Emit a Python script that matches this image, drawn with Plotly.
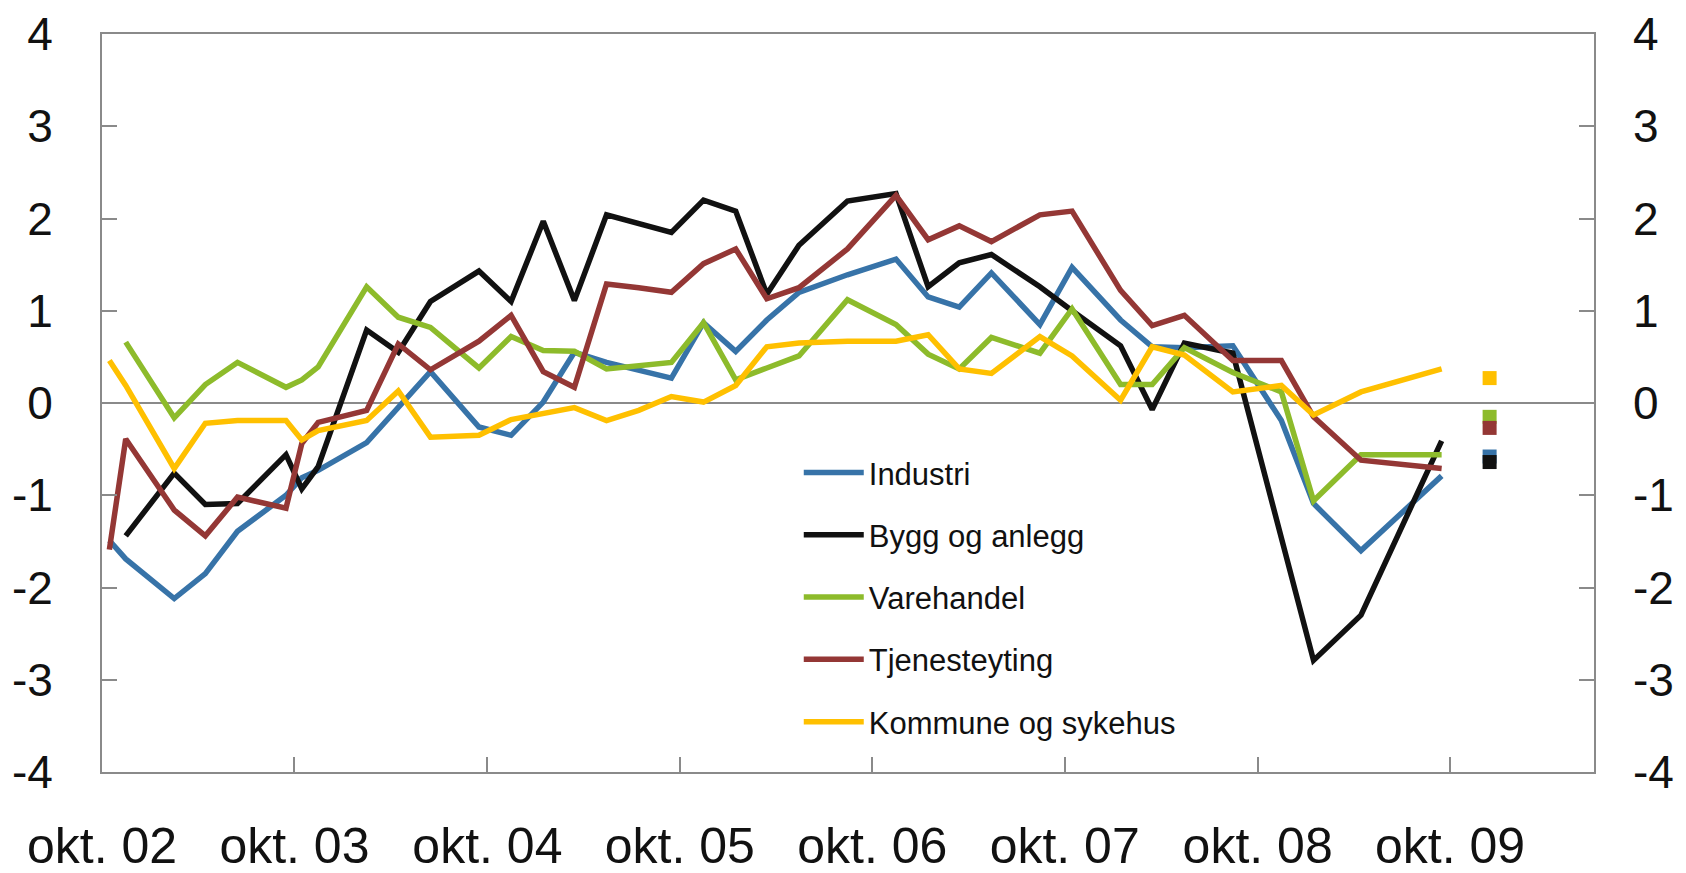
import plotly.graph_objects as go

# -----------------------------
# Data
# -----------------------------

dates = [
    "2002-10-15", "2002-11-15", "2003-02-15", "2003-04-15", "2003-06-15",
    "2003-09-15", "2003-10-15", "2003-11-15", "2004-02-15", "2004-04-15",
    "2004-06-15", "2004-09-15", "2004-11-15", "2005-01-15", "2005-03-15",
    "2005-05-15", "2005-07-15", "2005-09-15", "2005-11-15", "2006-01-15",
    "2006-03-15", "2006-05-15", "2006-08-15", "2006-11-15", "2007-01-15",
    "2007-03-15", "2007-05-15", "2007-08-15", "2007-10-15", "2008-01-15",
    "2008-03-15", "2008-05-15", "2008-08-15", "2008-11-15", "2009-01-15",
    "2009-04-15", "2009-09-15",
]

industri = [
    -1.49, -1.69, -2.12, -1.85, -1.39, -1.00, -0.81, -0.73, -0.43, -0.04,
    0.34, -0.26, -0.35, 0.01, 0.55, 0.44, 0.36, 0.27, 0.87, 0.56,
    0.90, 1.20, 1.39, 1.56, 1.15, 1.04, 1.41, 0.85, 1.47, 0.90,
    0.61, 0.60, 0.62, -0.19, -1.09, -1.60, -0.79,
]

bygg = [
    None, -1.44, -0.76, -1.10, -1.09, -0.56, -0.93, -0.69, 0.79, 0.55,
    1.10, 1.43, 1.10, 1.97, 1.11, 2.04, 1.94, 1.85, 2.20, 2.08,
    1.18, 1.71, 2.19, 2.27, 1.26, 1.52, 1.61, 1.26, 1.00, 0.62,
    -0.07, 0.65, 0.54, None, -2.79, -2.30, -0.41,
]

varehandel = [
    None, 0.66, -0.16, 0.20, 0.44, 0.17, 0.25, 0.39, 1.26, 0.93,
    0.82, 0.38, 0.72, 0.57, 0.56, 0.37, 0.41, 0.44, 0.87, 0.25,
    0.38, 0.51, 1.12, 0.85, 0.53, 0.37, 0.71, 0.54, 1.02, 0.20,
    0.20, 0.60, 0.33, 0.12, -1.06, -0.56, -0.56,
]

tjenesteyting = [
    -1.59, -0.39, -1.16, -1.44, -1.02, -1.14, -0.44, -0.21, -0.08, 0.64,
    0.36, 0.67, 0.95, 0.34, 0.17, 1.29, 1.25, 1.20, 1.51, 1.67,
    1.13, 1.25, 1.67, 2.25, 1.77, 1.92, 1.75, 2.04, 2.08, 1.22,
    0.84, 0.95, 0.46, 0.46, -0.15, -0.62, -0.71,
]

kommune = [
    0.46, 0.19, -0.71, -0.22, -0.19, -0.19, -0.40, -0.30, -0.19, 0.13,
    -0.37, -0.35, -0.18, -0.12, -0.05, -0.19, -0.08, 0.07, 0.01, 0.19,
    0.61, 0.65, 0.67, 0.67, 0.74, 0.37, 0.32, 0.72, 0.51, 0.03,
    0.61, 0.52, 0.12, 0.19, -0.13, 0.12, 0.37,
]

# expectations, shown as squares to the right
exp_date = "2009-12-15"
exp_names = ["Kommune og sykehus", "Varehandel", "Tjenesteyting", "Industri", "Bygg og anlegg"]
exp_values = [0.27, -0.15, -0.27, -0.58, -0.64]

tick_dates = ["2002-10-01", "2003-10-01", "2004-10-01", "2005-10-01",
              "2006-10-01", "2007-10-01", "2008-10-01", "2009-10-01"]
tick_labels = ["okt. 02", "okt. 03", "okt. 04", "okt. 05",
               "okt. 06", "okt. 07", "okt. 08", "okt. 09"]

y_ticks = [-4, -3, -2, -1, 0, 1, 2, 3, 4]
y_labels = ["-4", "-3", "-2", "-1", "0", "1", "2", "3", "4"]

series = [
    ("Industri", industri, "#3773a8"),
    ("Bygg og anlegg", bygg, "#111111"),
    ("Varehandel", varehandel, "#8dbb2b"),
    ("Tjenesteyting", tjenesteyting, "#943735"),
    ("Kommune og sykehus", kommune, "#ffc000"),
]
colors = {name: c for name, _, c in series}

# -----------------------------
# Figure
# -----------------------------

fig = go.Figure()

for name, vals, col in series:
    fig.add_trace(go.Scatter(
        x=dates, y=vals, name=name, mode="lines",
        connectgaps=True, legendgroup=name,
        line=dict(color=col, width=5.5),
    ))

for name, v in zip(exp_names, exp_values):
    fig.add_trace(go.Scatter(
        x=[exp_date], y=[v], mode="markers", showlegend=False,
        yaxis="y2",
        marker=dict(symbol="square", size=14, color=colors[name]),
    ))

axis_grey = "#8a8a8a"
tick_font = dict(family="Liberation Sans, Arial", size=46, color="#111111")
xtick_font = dict(family="Liberation Sans, Arial", size=50, color="#111111")

# the page adds an 8px body margin, so margins are shifted to compensate
fig.update_layout(
    width=1686,
    height=873,
    margin=dict(l=94, r=100, t=26, b=109),
    paper_bgcolor="white",
    plot_bgcolor="white",
    showlegend=True,
    legend=dict(
        x=0.467, y=0.442, xanchor="left", yanchor="top",
        font=dict(family="Liberation Sans, Arial", size=31, color="#111111"),
        bgcolor="rgba(0,0,0,0)",
        tracegroupgap=19,
        itemwidth=60,
    ),
    xaxis=dict(
        type="date",
        range=["2002-10-01", "2010-07-01"],
        tickvals=tick_dates, ticktext=tick_labels,
        ticks="inside", ticklen=15, tickwidth=1.5, tickcolor=axis_grey,
        showline=True, linecolor=axis_grey, linewidth=2, mirror=True,
        showgrid=False, zeroline=False, automargin=False,
        tickfont=xtick_font, ticklabelstandoff=29,
    ),
    yaxis=dict(
        range=[-4, 4],
        tickvals=y_ticks, ticktext=y_labels,
        ticks="inside", ticklen=15, tickwidth=1.5, tickcolor=axis_grey,
        showline=True, linecolor=axis_grey, linewidth=2, mirror="allticks",
        showgrid=False, automargin=False,
        zeroline=True, zerolinecolor=axis_grey, zerolinewidth=2,
        tickfont=tick_font, ticklabelstandoff=38,
    ),
    yaxis2=dict(
        range=[-4, 4], overlaying="y", side="right",
        tickvals=y_ticks, ticktext=y_labels,
        ticks="", showline=False, showgrid=False, zeroline=False,
        automargin=False,
        tickfont=tick_font, ticklabelstandoff=38,
    ),
)

fig.write_html("out.html")
